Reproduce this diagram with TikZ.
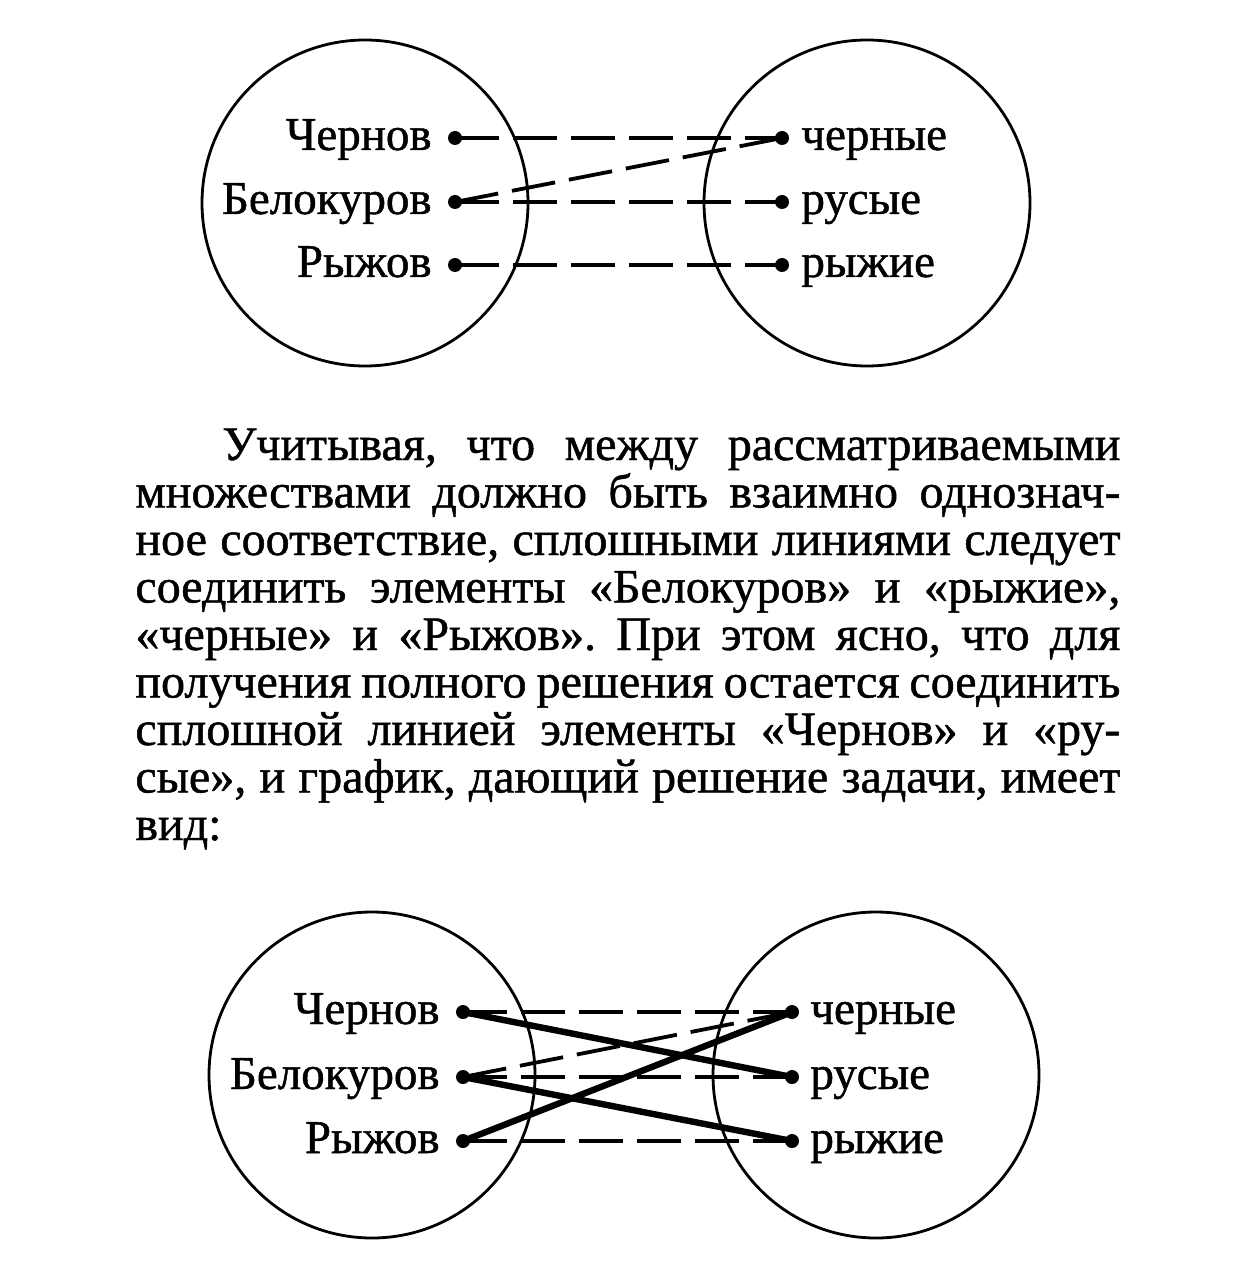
\documentclass[tikz,border=0pt]{standalone}
\usepackage{fontspec}
\setmainfont{Liberation Serif}[FakeBold=1.0]
\frenchspacing
\begin{document}
\begin{tikzpicture}[x=0.5pt,y=-0.5pt,
  setcirc/.style={draw, circle, line width=1.4pt, inner sep=0pt, minimum size=163pt},
  ptnode/.style={circle, fill, inner sep=0pt, minimum size=7pt},
  lbl/.style={font=\fontsize{23.5}{24}\selectfont, inner sep=0pt},
  dsh/.style={line width=1.9pt, dash pattern=on 22pt off 7pt},
  sol/.style={line width=3.2pt},
  txt/.style={font=\fontsize{24}{24}\selectfont, inner sep=0pt, anchor=base west}]
\useasboundingbox (0,0) rectangle (1248,1278);

% ---------- top diagram ----------
\node[setcirc] (CA) at (365,203) {};
\node[setcirc] (CB) at (867,203) {};
\node[ptnode] (a1) at (455,138) {};
\node[ptnode] (a2) at (455,202) {};
\node[ptnode] (a3) at (455,265) {};
\node[ptnode] (b1) at (782,138) {};
\node[ptnode] (b2) at (782,202) {};
\node[ptnode] (b3) at (782,265) {};
\node[lbl, anchor=base east] (ta1) at (432,150) {Чернов};
\node[lbl, anchor=base east] (ta2) at (432,214) {Белокуров};
\node[lbl, anchor=base east] (ta3) at (432,277) {Рыжов};
\node[lbl, anchor=base west] (tb1) at (801,150) {черные};
\node[lbl, anchor=base west] (tb2) at (801,214) {русые};
\node[lbl, anchor=base west] (tb3) at (801,277) {рыжие};
\draw[dsh] (a1.center) -- (b1.center);
\draw[dsh] (a2.center) -- (b1.center);
\draw[dsh] (a2.center) -- (b2.center);
\draw[dsh] (a3.center) -- (b3.center);

% ---------- paragraph ----------
\node[txt] (p1) at (222,460) {\makebox[449pt][s]{Учитывая, что между рассматриваемыми}};
\node[txt] (p2) at (135,507.5) {\makebox[492.5pt][s]{множествами должно быть взаимно однознач-}};
\node[txt] (p3) at (135,555) {\makebox[492.5pt][s]{ное соответствие, сплошными линиями следует}};
\node[txt] (p4) at (135,602.5) {\makebox[492.5pt][s]{соединить элементы «Белокуров» и «рыжие»,}};
\node[txt] (p5) at (135,650) {\makebox[492.5pt][s]{«черные» и «Рыжов». При этом ясно, что для}};
\node[txt] (p6) at (135,697.5) {\makebox[492.5pt][s]{получения полного решения остается соединить}};
\node[txt] (p7) at (135,745) {\makebox[492.5pt][s]{сплошной линией элементы «Чернов» и «ру-}};
\node[txt] (p8) at (135,792.5) {\makebox[492.5pt][s]{сые», и график, дающий решение задачи, имеет}};
\node[txt] (p9) at (135,840) {вид:};

% ---------- bottom diagram ----------
\node[setcirc] (CC) at (372,1075) {};
\node[setcirc] (CD) at (876,1075) {};
\node[ptnode] (c1) at (463,1012) {};
\node[ptnode] (c2) at (463,1077) {};
\node[ptnode] (c3) at (463,1141) {};
\node[ptnode] (d1) at (792,1012) {};
\node[ptnode] (d2) at (792,1077) {};
\node[ptnode] (d3) at (792,1141) {};
\node[lbl, anchor=base east] (tc1) at (440,1024) {Чернов};
\node[lbl, anchor=base east] (tc2) at (440,1089) {Белокуров};
\node[lbl, anchor=base east] (tc3) at (440,1153) {Рыжов};
\node[lbl, anchor=base west] (td1) at (810,1024) {черные};
\node[lbl, anchor=base west] (td2) at (810,1089) {русые};
\node[lbl, anchor=base west] (td3) at (810,1153) {рыжие};
\draw[dsh] (c1.center) -- (d1.center);
\draw[dsh] (c2.center) -- (d1.center);
\draw[dsh] (c2.center) -- (d2.center);
\draw[dsh] (c3.center) -- (d3.center);
\draw[sol] (c1.center) -- (d2.center);
\draw[sol] (c2.center) -- (d3.center);
\draw[sol] (c3.center) -- (d1.center);
\end{tikzpicture}
\end{document}
